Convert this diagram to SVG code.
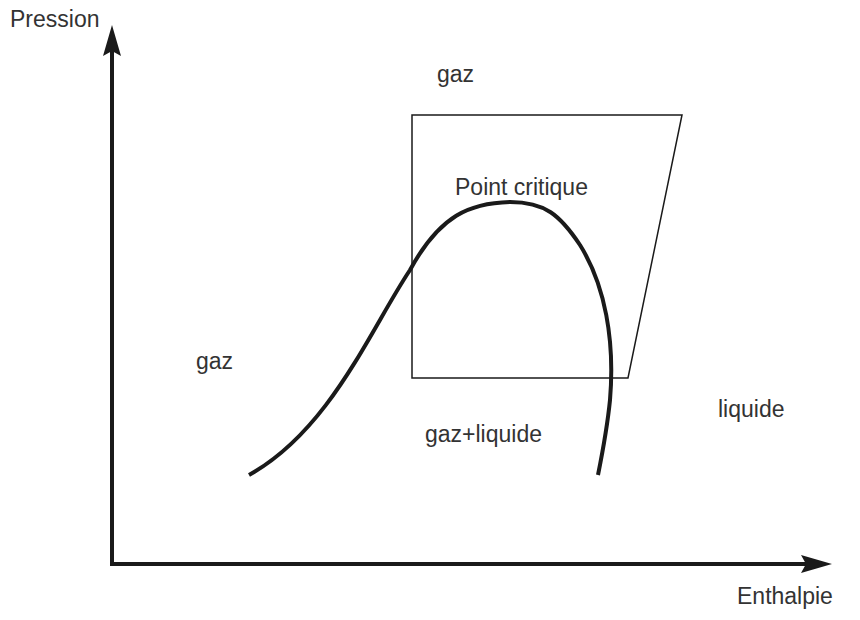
<svg xmlns="http://www.w3.org/2000/svg" width="860" height="620" viewBox="0 0 860 620">
<defs>
<style>
.t{font-family:"Liberation Sans",Arial,sans-serif;font-size:23px;fill:#333}
.ax{stroke:#1a1a1a;stroke-width:4;fill:none}
.thin{stroke:#1a1a1a;stroke-width:1.5;fill:none}
.curve{stroke:#1a1a1a;stroke-width:4;fill:none;stroke-linecap:butt}
</style>
</defs>
<rect width="860" height="620" fill="#fff"/>
<g id="connectors">
<line class="ax" x1="112" y1="566" x2="112" y2="48"/>
<path d="M112,25 L121,56 L112,51 L103,56 Z" fill="#1a1a1a"/>
<line class="ax" x1="110" y1="564" x2="810" y2="564"/>
<path d="M832,564 L801,555 L806,564 L801,573 Z" fill="#1a1a1a"/>
</g>
<g id="zone">
<path class="thin" d="M412,115 L682,115 L628,378 L412,378 Z"/>
</g>
<g id="courbe">
<path class="curve" d="M249,475 C330,430 370,330 410,270 C440,215 470,203 510,202 C545,202 560,215 580,245 C605,285 615,340 610,400 C607,430 602,455 598,475"/>
</g>
<g id="labels">
<text class="t" x="10" y="27">Pression</text>
<text class="t" x="437" y="82">gaz</text>
<text class="t" x="455" y="195">Point critique</text>
<text class="t" x="196" y="369">gaz</text>
<text class="t" x="718" y="417">liquide</text>
<text class="t" x="425" y="442">gaz+liquide</text>
<text class="t" x="737" y="604">Enthalpie</text>
</g>
</svg>
